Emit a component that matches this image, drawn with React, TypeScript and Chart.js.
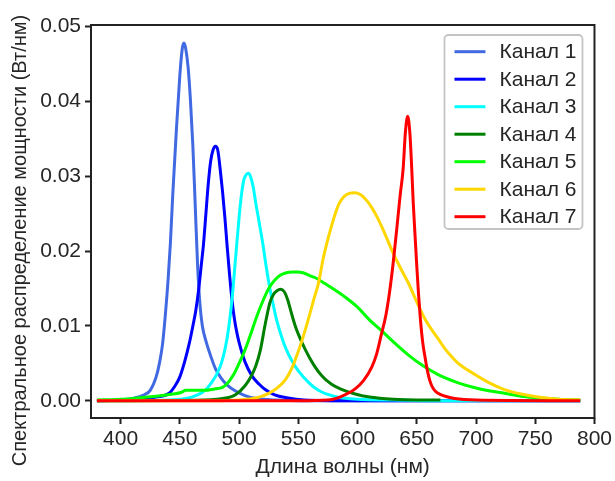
import React, { useEffect, useRef } from "react";
import { Chart, registerables } from "chart.js";

Chart.register(...registerables);

const SERIES_LABELS = ["Канал 1", "Канал 2", "Канал 3", "Канал 4", "Канал 5", "Канал 6", "Канал 7"];
const SERIES_COLORS = ["#4169E1", "#0000FF", "#00FFFF", "#008000", "#00FF00", "#FFD700", "#FF0000"];

const ch1X = [380, 400, 410, 420, 425, 430, 433, 435.5, 437.5, 440, 442, 444, 447, 450, 452, 453.5, 455, 457, 459, 461, 463, 465, 467, 469, 472, 476, 480, 485, 490, 497, 505, 515, 530, 560, 788];
const ch1Y = [0, 0.0001, 0.0003, 0.0008, 0.0014, 0.0032, 0.0052, 0.0077, 0.011, 0.016, 0.021, 0.0275, 0.036, 0.0435, 0.047, 0.0478, 0.047, 0.0445, 0.04, 0.034, 0.026, 0.018, 0.0128, 0.01, 0.008, 0.006, 0.0043, 0.003, 0.0021, 0.0013, 0.0007, 0.0003, 0.0001, 0, 0];

const ch2X = [380, 420, 430, 441, 446, 450, 454, 458, 461, 463.5, 466, 468, 470, 472, 474, 476, 478, 480, 482, 484, 486, 488, 490, 492, 494, 496, 498, 500, 505, 511, 517, 522, 530, 540, 555, 600, 788];
const ch2Y = [0, 0.0002, 0.0005, 0.001, 0.002, 0.0032, 0.0052, 0.0077, 0.01, 0.0121, 0.015, 0.018, 0.021, 0.025, 0.029, 0.032, 0.0335, 0.034, 0.0335, 0.031, 0.028, 0.0245, 0.0205, 0.0168, 0.0135, 0.011, 0.0092, 0.0078, 0.0052, 0.0033, 0.0022, 0.0015, 0.0008, 0.0004, 0.0001, 0, 0];

const ch3X = [380, 440, 455, 465, 472, 477, 481, 485, 488, 491, 494, 497, 500, 502, 504, 506, 508, 510, 512, 514, 517, 520, 523, 526, 529, 532, 536, 540, 545, 550, 559, 567, 580, 600, 630, 660, 788];
const ch3Y = [0, 0.0001, 0.0003, 0.0008, 0.0015, 0.0025, 0.0035, 0.005, 0.0068, 0.0095, 0.0135, 0.019, 0.0245, 0.0275, 0.0295, 0.0302, 0.0304, 0.0298, 0.0285, 0.0265, 0.0238, 0.021, 0.0178, 0.015, 0.0127, 0.0106, 0.0085, 0.0068, 0.0052, 0.004, 0.0024, 0.0014, 0.0006, 0.0002, 0.0001, 0, 0];

const ch4X = [380, 470, 490, 497, 505, 510, 514, 518, 522, 526, 529, 532, 535, 538, 541, 544, 547, 550, 556, 563, 570, 578, 587, 598, 610, 630, 650, 670];
const ch4Y = [0, 0.0001, 0.0004, 0.0008, 0.002, 0.0032, 0.0046, 0.0068, 0.0102, 0.0131, 0.0142, 0.0147, 0.0149, 0.0146, 0.0135, 0.0118, 0.0102, 0.0089, 0.0068, 0.0048, 0.0033, 0.0022, 0.0015, 0.0009, 0.0005, 0.0002, 0.0001, 0.0001];

const ch5X = [380, 400, 416, 430, 444, 451, 455, 460, 470, 480, 486, 490, 495, 500, 505, 510, 515, 520, 525, 530, 535, 540, 545, 549, 554, 560, 566, 572, 580, 590, 600, 610, 620, 630, 643, 655, 668, 685, 700, 712, 724, 738, 752, 770, 788];
const ch5Y = [0.0001, 0.0002, 0.0004, 0.0006, 0.0009, 0.0011, 0.0014, 0.0014, 0.0014, 0.0016, 0.0018, 0.0023, 0.0034, 0.005, 0.0068, 0.009, 0.0113, 0.0133, 0.015, 0.0161, 0.0168, 0.0171, 0.0172, 0.0172, 0.0171, 0.0167, 0.0163, 0.0157, 0.0149, 0.0138, 0.0125, 0.0108, 0.0094, 0.0079, 0.0061, 0.0047, 0.0035, 0.0024, 0.0017, 0.0013, 0.001, 0.0006, 0.0004, 0.0002, 0.0001];

const ch6X = [380, 480, 500, 515, 525, 532, 539, 545, 550, 555, 559, 563, 567, 571, 576, 580, 584, 588, 593, 598, 603, 608, 612, 616, 622, 629, 636, 643, 650, 657, 663, 668, 674, 680, 685, 696, 710, 724, 738, 752, 770, 788];
const ch6Y = [0, 0, 0.0001, 0.0004, 0.001, 0.0017, 0.0028, 0.0045, 0.0066, 0.009, 0.0112, 0.0135, 0.0157, 0.019, 0.0222, 0.0244, 0.0262, 0.0272, 0.0277, 0.0278, 0.0275, 0.0267, 0.0258, 0.0247, 0.0227, 0.0201, 0.0178, 0.0157, 0.0132, 0.0109, 0.0094, 0.0083, 0.0069, 0.0058, 0.005, 0.0038, 0.0025, 0.0015, 0.0009, 0.0005, 0.0002, 0.0001];

const ch7X = [380, 550, 575, 585, 592, 598, 605, 612, 616, 620, 624, 627, 630, 633, 636, 638.5, 640.3, 642.3, 644.2, 645.6, 647, 648.5, 650, 651.5, 653, 655, 657, 659, 661, 664, 668, 674, 682, 700, 788];
const ch7Y = [0, 0, 0.0001, 0.0005, 0.001, 0.0016, 0.0027, 0.0045, 0.0062, 0.0088, 0.0115, 0.0145, 0.0183, 0.0228, 0.0275, 0.031, 0.0357, 0.038, 0.0357, 0.0315, 0.0265, 0.0222, 0.018, 0.0142, 0.011, 0.0078, 0.0058, 0.004, 0.0027, 0.0016, 0.001, 0.0006, 0.0003, 0.0001, 0];

const SERIES_X = [ch1X, ch2X, ch3X, ch4X, ch5X, ch6X, ch7X];
const SERIES_Y = [ch1Y, ch2Y, ch3Y, ch4Y, ch5Y, ch6Y, ch7Y];

const X_TICKS = [400, 450, 500, 550, 600, 650, 700, 750, 800];
const Y_TICKS = [0, 0.01, 0.02, 0.03, 0.04, 0.05];

const X_TITLE = "Длина волны (нм)";
const Y_TITLE = "Спектральное распределение мощности (Вт/нм)";

const FONT = "'Liberation Sans', Arial, sans-serif";
const TEXT_COLOR = "#262626";
const AXIS_COLOR = "#222222";

const framePlugin = {
  id: "frame",
  afterDraw(chart: any) {
    const { ctx, chartArea } = chart;
    ctx.save();
    ctx.strokeStyle = AXIS_COLOR;
    ctx.lineWidth = 2;
    ctx.strokeRect(chartArea.left, chartArea.top, chartArea.right - chartArea.left, chartArea.bottom - chartArea.top);
    ctx.restore();

    // y title
    ctx.save();
    ctx.fillStyle = TEXT_COLOR;
    ctx.font = `20px ${FONT}`;
    ctx.textAlign = "center";
    ctx.textBaseline = "middle";
    ctx.translate(20, (chartArea.top + chartArea.bottom) / 2 + 19);
    ctx.rotate(-Math.PI / 2);
    ctx.fillText(Y_TITLE, 0, 0);
    ctx.restore();

    // legend
    const bx = chartArea.right - 150;
    const by = chartArea.top + 10;
    const bw = 138;
    const bh = 194;
    ctx.save();
    ctx.beginPath();
    const r = 4;
    ctx.moveTo(bx + r, by);
    ctx.lineTo(bx + bw - r, by);
    ctx.arcTo(bx + bw, by, bx + bw, by + r, r);
    ctx.lineTo(bx + bw, by + bh - r);
    ctx.arcTo(bx + bw, by + bh, bx + bw - r, by + bh, r);
    ctx.lineTo(bx + r, by + bh);
    ctx.arcTo(bx, by + bh, bx, by + bh - r, r);
    ctx.lineTo(bx, by + r);
    ctx.arcTo(bx, by, bx + r, by, r);
    ctx.closePath();
    ctx.fillStyle = "rgba(255,255,255,0.8)";
    ctx.fill();
    ctx.strokeStyle = "#c4c4c4";
    ctx.lineWidth = 1.8;
    ctx.stroke();
    chart.data.datasets.forEach((ds: any, i: number) => {
      const y = by + 16.7 + i * 27.5;
      ctx.beginPath();
      ctx.strokeStyle = ds.borderColor;
      ctx.lineWidth = 3;
      ctx.moveTo(bx + 10, y);
      ctx.lineTo(bx + 41, y);
      ctx.stroke();
      ctx.fillStyle = TEXT_COLOR;
      ctx.font = `21px ${FONT}`;
      ctx.textAlign = "left";
      ctx.textBaseline = "middle";
      ctx.fillText(ds.label, bx + 55, y + 1);
    });
    ctx.restore();
  },
};

export default function App() {
  const canvasRef = useRef<HTMLCanvasElement | null>(null);

  useEffect(() => {
    if (!canvasRef.current) return;
    const datasets = SERIES_LABELS.map((label, i) => ({
      label,
      data: SERIES_X[i].map((x, j) => ({ x, y: SERIES_Y[i][j] })),
      borderColor: SERIES_COLORS[i],
      backgroundColor: SERIES_COLORS[i],
      borderWidth: 3,
      pointRadius: 0,
      fill: false,
      cubicInterpolationMode: "monotone" as const,
      order: SERIES_LABELS.length - i,
    }));

    const chart = new Chart(canvasRef.current, {
      type: "line",
      data: { datasets },
      plugins: [framePlugin],
      options: {
        animation: false,
        responsive: false,
        maintainAspectRatio: false,
        layout: { padding: { left: 0, top: 25, right: 18, bottom: 0 } },
        plugins: { legend: { display: false }, tooltip: { enabled: false } },
        scales: {
          x: {
            type: "linear",
            min: 375,
            max: 800,
            afterBuildTicks: (scale: any) => {
              scale.ticks = X_TICKS.map((v) => ({ value: v }));
            },
            afterFit: (scale: any) => {
              scale.height = 63;
            },
            ticks: {
              color: TEXT_COLOR,
              font: { family: FONT, size: 21 },
              padding: 3,
              maxRotation: 0,
              autoSkip: false,
              callback: (v: any) => String(v),
            },
            grid: { display: true, drawOnChartArea: false, drawTicks: true, tickLength: 6, tickWidth: 2, tickColor: AXIS_COLOR },
            border: { display: false },
            title: { display: true, text: X_TITLE, color: TEXT_COLOR, font: { family: FONT, size: 21 }, padding: { top: 0, bottom: 1 } },
          },
          y: {
            type: "linear",
            min: -0.0023,
            max: 0.0502,
            afterBuildTicks: (scale: any) => {
              scale.ticks = Y_TICKS.map((v) => ({ value: v }));
            },
            afterFit: (scale: any) => {
              scale.width = 91;
            },
            ticks: {
              color: TEXT_COLOR,
              font: { family: FONT, size: 21 },
              padding: 4,
              autoSkip: false,
              callback: (v: any) => Number(v).toFixed(2),
            },
            grid: { display: true, drawOnChartArea: false, drawTicks: true, tickLength: 6, tickWidth: 2, tickColor: AXIS_COLOR },
            border: { display: false },
          },
        },
      },
    });
    return () => chart.destroy();
  }, []);

  return (
    <div style={{ position: "fixed", left: 0, top: 0, width: 615, height: 481, background: "#fff" }}>
      <canvas ref={canvasRef} width={615} height={481} style={{ display: "block" }} />
    </div>
  );
}
